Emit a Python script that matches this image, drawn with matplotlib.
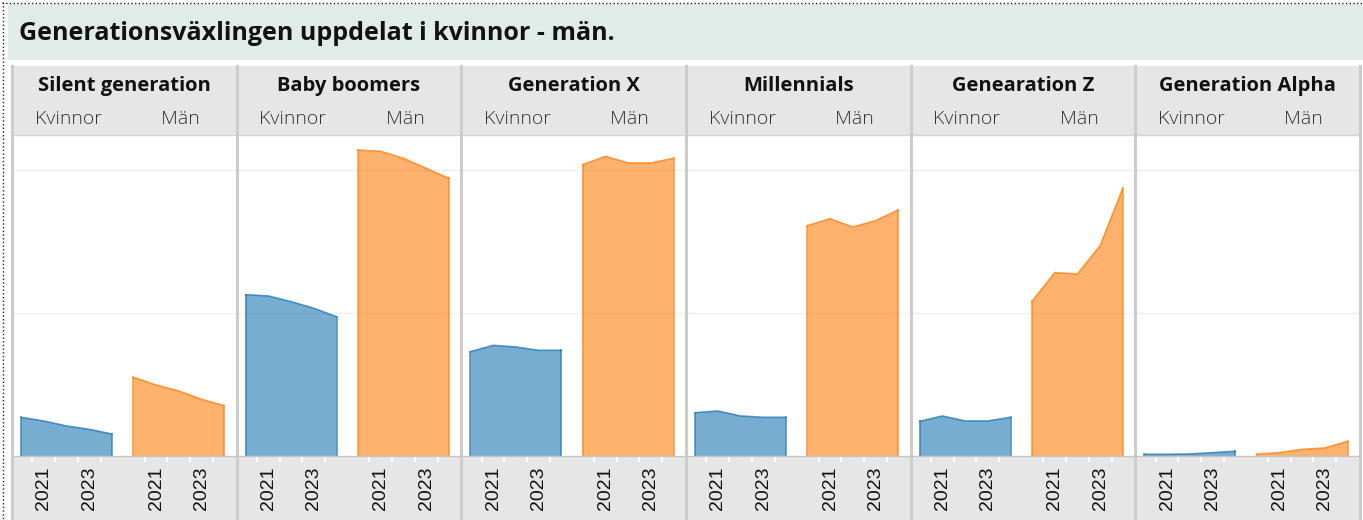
import numpy as np
import matplotlib.pyplot as plt
from matplotlib.patches import Rectangle
from matplotlib.lines import Line2D

plt.rcParams['font.family'] = ['Liberation Sans', 'DejaVu Sans']

# data (arbitrary units: gridlines at 5000 and 10000)
years = [2020, 2021, 2022, 2023, 2024]
generations = ["Silent generation", "Baby boomers", "Generation X",
               "Millennials", "Genearation Z", "Generation Alpha"]
kvinnor = [
    [1353, 1224, 1049, 933, 769],
    [5640, 5595, 5396, 5165, 4871],
    [3648, 3869, 3811, 3695, 3695],
    [1514, 1573, 1399, 1353, 1353],
    [1212, 1399, 1224, 1224, 1353],
    [59, 59, 70, 117, 164],
]
man = [
    [2752, 2483, 2273, 1983, 1759],
    [10699, 10654, 10409, 10059, 9710],
    [10186, 10478, 10245, 10245, 10408],
    [8053, 8298, 8007, 8228, 8601],
    [5408, 6411, 6364, 7354, 9360],
    [59, 117, 233, 280, 513],
]
sub_labels = ["Kvinnor", "Män"]
year_labels = [2021, 2023]
gridlines = [5000, 10000]

W, H = 1363, 520
fig = plt.figure(figsize=(W / 100, H / 100), dpi=100)


def fx(x):
    return x / W


def fy(y):
    return 1 - y / H


def rect(x0, y0, x1, y1, color):
    fig.patches.append(Rectangle((fx(x0), fy(y1)), (x1 - x0) / W, (y1 - y0) / H,
                                 transform=fig.transFigure, facecolor=color,
                                 edgecolor='none', zorder=-5))


def vline(x, y0, y1, color, lw, ls='-'):
    fig.add_artist(Line2D([fx(x), fx(x)], [fy(y0), fy(y1)], color=color, lw=lw,
                          ls=ls, zorder=5))


def hline(y, x0, x1, color, lw, ls='-'):
    fig.add_artist(Line2D([fx(x0), fx(x1)], [fy(y), fy(y)], color=color, lw=lw,
                          ls=ls, zorder=5))


# title band
rect(8, 4, W, 60, '#dfece8')
fig.text(fx(19), fy(34), "Generationsväxlingen uppdelat i kvinnor - män.",
         fontsize=18, fontweight='bold', family='Open Sans', va='center',
         ha='left', color='#111111')

# header and axis bands
left, right = 12, 1360
top_plot, base = 135, 456
rect(left, 66, right, top_plot, '#e6e6e6')
rect(left, base, right, H, '#e6e6e6')

pw = (right - left) / len(generations)
blue, orange = '#1f77b4', '#ff7f0e'

for i, gen in enumerate(generations):
    x0 = left + i * pw
    fig.text(fx(x0 + pw / 2), fy(86), gen, fontsize=14.5, fontweight='bold',
             family='Open Sans', ha='center', va='center', color='#111111')
    for j, (vals, col) in enumerate([(kvinnor[i], blue), (man[i], orange)]):
        sx = x0 + j * pw / 2
        fig.text(fx(sx + pw / 4), fy(119), sub_labels[j], fontsize=14,
                 fontweight='light', family='Open Sans', ha='center',
                 va='center', color='#333333')
        ax = fig.add_axes([fx(sx), fy(base), (pw / 2) / W, (base - top_plot) / H])
        ax.set_facecolor('none')
        ax.fill_between(years, vals, 0, facecolor=col, alpha=0.6, lw=0, zorder=2)
        ax.plot(years, vals, color=col, lw=1.2, alpha=0.75, zorder=3)
        ax.plot([years[0], years[0]], [0, vals[0]], color=col, lw=1.2, alpha=0.75, zorder=3)
        ax.plot([years[-1], years[-1]], [0, vals[-1]], color=col, lw=1.2, alpha=0.75, zorder=3)
        for g in gridlines:
            ax.axhline(g, color='#efefef', lw=1, zorder=0)
        ax.set_xlim(2019.6, 2024.55)
        ax.set_ylim(0, 11225)
        for s in ax.spines.values():
            s.set_visible(False)
        ax.set_yticks([])
        ax.set_xticks(year_labels)
        ax.set_xticklabels([str(y) for y in year_labels], rotation=90,
                           fontsize=14, color='#111111')
        ax.set_xticks([2020.5, 2021.5, 2022.5, 2023.5], minor=True)
        ax.tick_params(axis='x', which='major', length=0, pad=7.5)
        ax.tick_params(axis='x', which='minor', length=4, width=1.5, color='white')

# borders and separators
hline(top_plot, left, right, '#d4d4d4', 1)
hline(base, left, right, '#c4c4c4', 1)
for i in range(len(generations) + 1):
    vline(left + i * pw, 66, H, '#cccccc', 2.2)

# dotted outer frame
vline(2.5, 2, H, '#222222', 1, ':')
hline(2.5, 2, W, '#222222', 1, ':')

fig.savefig('out.png', dpi=100)
